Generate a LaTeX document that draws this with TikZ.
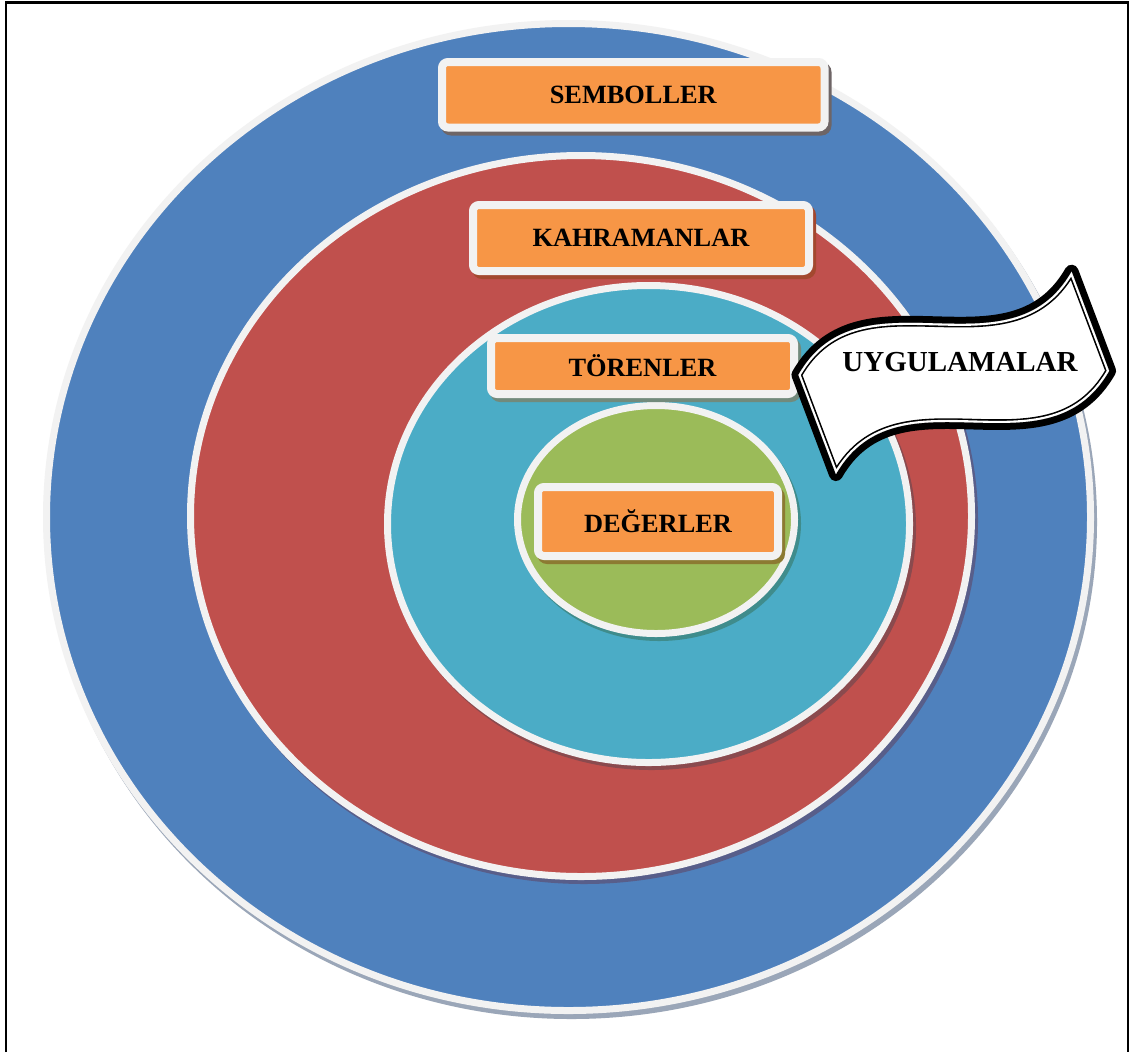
\documentclass[tikz,border=0pt]{standalone}
\usepackage{fontspec}
\setmainfont{Liberation Serif}

\definecolor{ringblue}{HTML}{4F81BD}
\definecolor{ringred}{HTML}{C0504D}
\definecolor{ringteal}{HTML}{4BACC6}
\definecolor{ringgreen}{HTML}{9BBB59}
\definecolor{ringwhite}{HTML}{F2F2F2}
\definecolor{boxorange}{HTML}{F79646}
% shadows cast by the rings
\definecolor{shadeblue}{HTML}{9AA6B8}
\definecolor{shadered}{HTML}{585E8A}
\definecolor{shadeteal}{HTML}{8A4A4E}
\definecolor{shadegreen}{HTML}{3F8C8C}
% shadows cast by the label boxes
\definecolor{shadesem}{HTML}{6E6566}
\definecolor{shadekah}{HTML}{A3482F}
\definecolor{shadetor}{HTML}{728A7C}
\definecolor{shadedeg}{HTML}{8C7A32}

% label box with its drop shadow: name, centre x, centre y, width, height, shadow colour, text
\newcommand\tagbox[7]{%
  \fill[#6, rounded corners=0.2cm] ({#2-#4/2-1},{#3-#5/2}) rectangle ({#2+#4/2+7},{#3+#5/2+8});
  \node[labelbox, minimum width={#4*0.02cm}, minimum height={#5*0.02cm}] (#1) at (#2,#3) {#7};
}

% outline of the wave banner, in its own rotated frame
\def\wavepath{(5,5) .. controls (102,-75) and (200,85) .. (297,5) -- (297,111)
  .. controls (200,191) and (102,31) .. (5,111) -- cycle}

\begin{document}
\begin{tikzpicture}[x=0.02cm, y=-0.02cm,
  ring/.style={draw=ringwhite, line width=0.14cm},
  labelbox/.style={draw=ringwhite, line width=0.16cm, fill=boxorange,
    rounded corners=0.12cm, inner sep=0pt,
    font=\bfseries\fontsize{15}{18}\selectfont},
  bannertext/.style={font=\bfseries\fontsize{16.5}{20}\selectfont, inner sep=0pt}]

\useasboundingbox (0,0) rectangle (1131,1052);
\fill[white] (0,0) rectangle (1131,1052);

% frame
\draw[line width=0.05cm] (6,1052) -- (6,2.5) -- (1128,2.5) -- (1128,1052);

% concentric rings, outermost first
\fill[shadeblue] (571.5,522) ellipse [x radius=525.5, y radius=497];
\draw[ring, fill=ringblue] (568.5,517) ellipse [x radius=522, y radius=493.5];

\fill[shadered] (584,520) ellipse [x radius=394, y radius=364];
\draw[ring, fill=ringred] (581,516) ellipse [x radius=390.5, y radius=360.5];

\fill[shadeteal] (651.5,528) ellipse [x radius=264.5, y radius=242];
\draw[ring, fill=ringteal] (648.5,524) ellipse [x radius=261, y radius=238.5];

\fill[shadegreen] (659,523.5) ellipse [x radius=142, y radius=117.5];
\draw[ring, fill=ringgreen] (656,519.5) ellipse [x radius=138.5, y radius=114];

% layer labels
\tagbox{sem}{633.25}{94.75}{382.5}{65.5}{shadesem}{SEMBOLLER}
\tagbox{kah}{641}{238}{336}{66}{shadekah}{KAHRAMANLAR}
\tagbox{tor}{642.5}{366}{303}{56}{shadetor}{TÖRENLER}
\tagbox{deg}{658}{521.5}{240}{69}{shadedeg}{DEĞERLER}

% wave banner: thick outer line, thin inner line
\begin{scope}[shift={(792,372)}, rotate=20.7]
  \fill[white] \wavepath;
  \draw[black, line width=0.28cm, line join=round] \wavepath;
  \begin{scope}
    \clip \wavepath;
    \draw[white, line width=0.32cm] \wavepath;
    \draw[black, line width=0.148cm] \wavepath;
    \draw[white, line width=0.084cm] \wavepath;
  \end{scope}
\end{scope}
\node[bannertext] (uyg) at (960,362) {UYGULAMALAR};

\end{tikzpicture}
\end{document}
